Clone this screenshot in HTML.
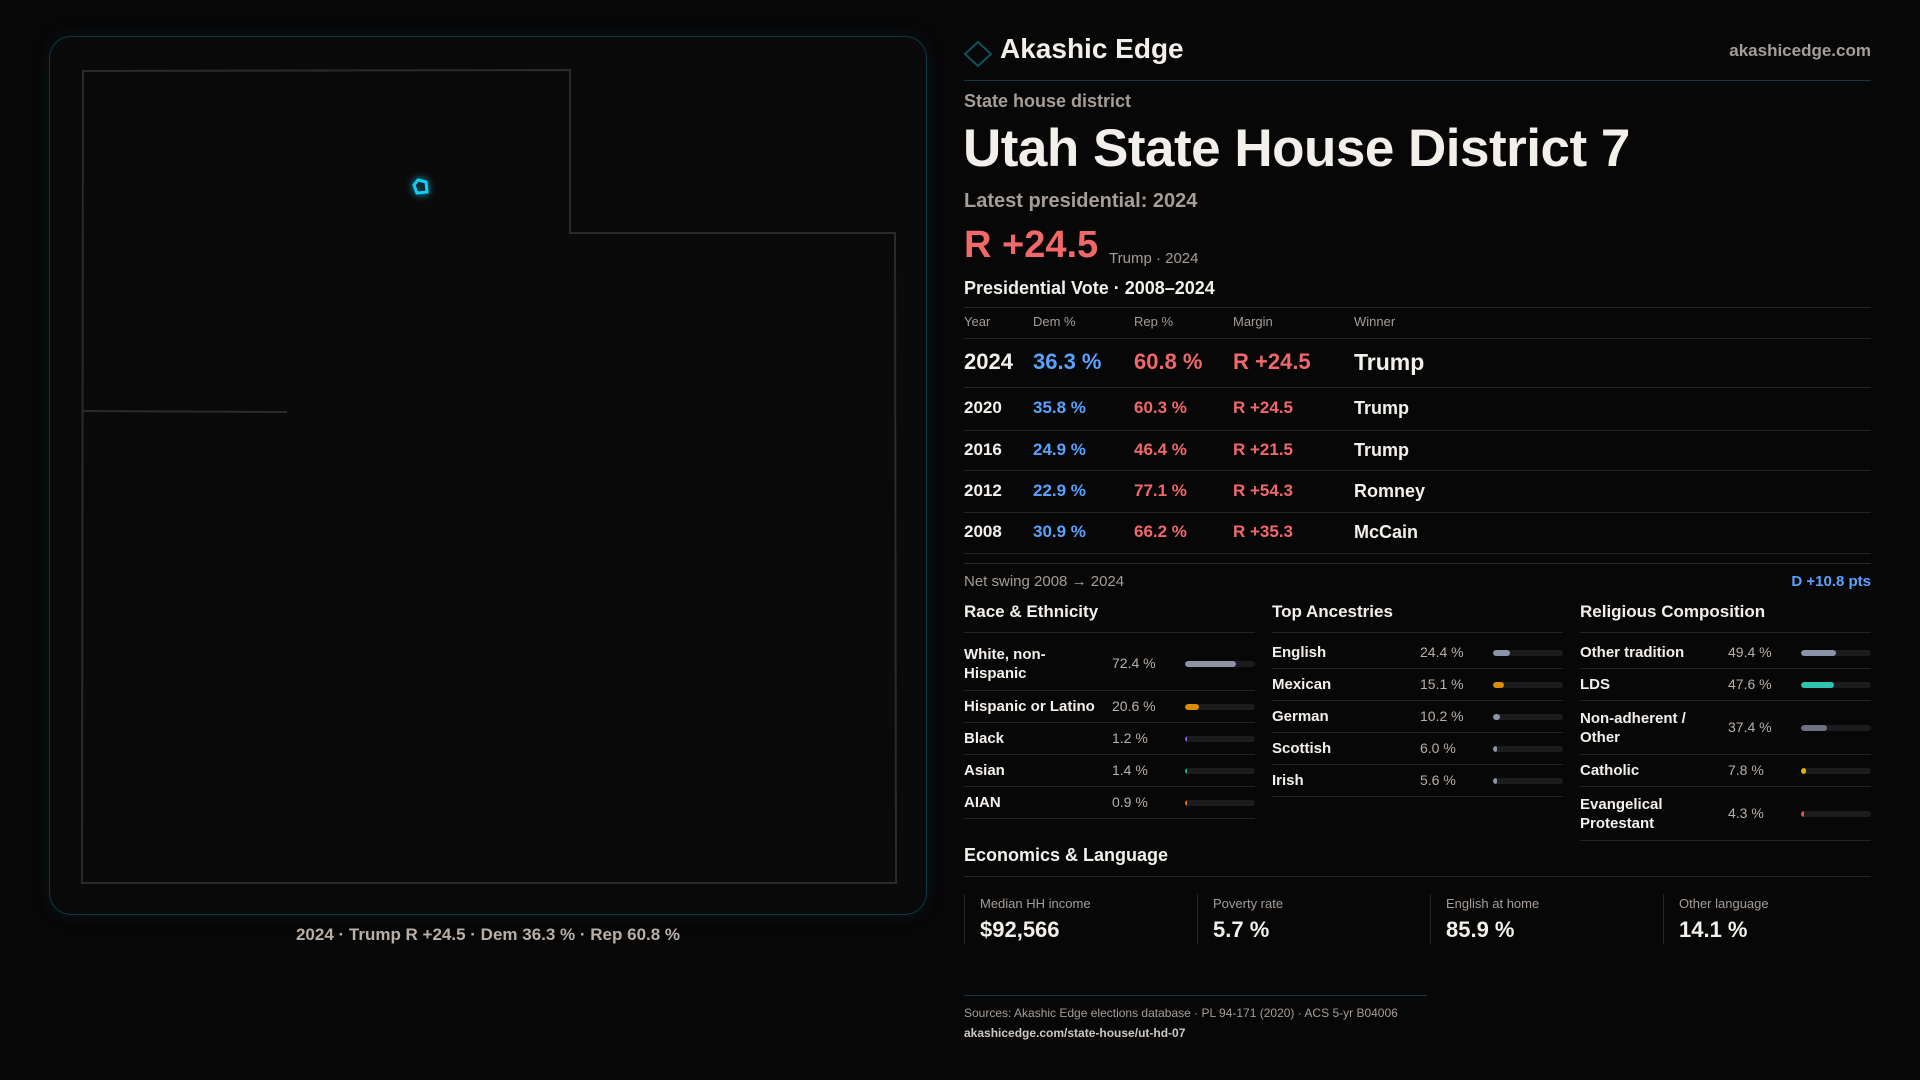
<!DOCTYPE html>
<html><head><meta charset="utf-8">
<style>
*{margin:0;padding:0;box-sizing:border-box}
body{width:1920px;height:1080px;background:#080708;font-family:"Liberation Sans",sans-serif;color:#f3f0ec;position:relative;overflow:hidden}
.a{position:absolute;white-space:nowrap}
.rule{position:absolute;height:1px;background:#242224}
.lbl{color:#a59d97}
.blue{color:#5aa2ff}.red{color:#f0686a}
.row{position:absolute;left:0;width:291px;border-bottom:1px solid #232123}
.row .n{position:absolute;left:0;font-size:15px;font-weight:bold;line-height:19px}
.row .v{position:absolute;font-size:14px;color:#b7afa8}
.track{position:absolute;height:6px;width:70px;background:#1c1b1e;border-radius:3px;overflow:hidden}
.fill{height:6px;border-radius:3px}
.card{position:absolute;top:894px;height:50px;border-left:1px solid #262426;padding-left:15px}
.card .l{font-size:13px;color:#a59d97;margin-top:2px}
.card .val{font-size:22px;font-weight:bold;margin-top:6px}
</style></head><body>
<div class="a" style="left:49px;top:36px;width:878px;height:879px;border:1px solid #0e3a44;border-radius:22px;background:#0b0a0b;box-shadow:0 0 18px rgba(20,120,140,0.12)"></div>
<svg class="a" style="left:0;top:0" width="940" height="900">
<polygon points="83,71 570,70 570,233 895,233 896,883 82,883" fill="none" stroke="#2c2a2c" stroke-width="2"/>
<line x1="83" y1="411" x2="287" y2="412" stroke="#2c2a2c" stroke-width="2"/>
<polygon points="414,185 418,180 426,182 427,192 417,193" fill="#0a2a33" stroke="#0fd0f0" stroke-width="3" style="filter:drop-shadow(0 0 4px #0aa8c8)"/>
</svg>
<div class="a" style="left:0;width:976px;text-align:center;top:925px;font-size:17px;color:#b7afa8;font-weight:bold">2024 · Trump R +24.5 · Dem 36.3 % · Rep 60.8 %</div>

<svg class="a" style="left:963px;top:40px" width="30" height="28"><polygon points="15,2 28,14 15,26 2,14" fill="none" stroke="#10505a" stroke-width="2"/></svg>
<div class="a" style="left:1000px;top:33px;font-size:28px;font-weight:bold">Akashic Edge</div>
<div class="a" style="right:49px;top:41px;font-size:17px;color:#a59d97;font-weight:bold">akashicedge.com</div>
<div class="rule" style="left:964px;width:907px;top:80px;background:#0f3a42"></div>
<div class="a lbl" style="left:964px;top:91px;font-size:18px;font-weight:bold">State house district</div>
<div class="a" style="left:963px;top:118px;font-size:53px;font-weight:bold;letter-spacing:-0.5px">Utah State House District 7</div>
<div class="a lbl" style="left:964px;top:190px;font-size:20px;font-weight:bold">Latest presidential: 2024</div>
<div class="a red" style="left:964px;top:224px;font-size:38px;font-weight:bold">R +24.5</div>
<div class="a lbl" style="left:1109px;top:250px;font-size:15px">Trump · 2024</div>
<div class="a" style="left:964px;top:278px;font-size:18px;font-weight:bold">Presidential Vote · 2008–2024</div>
<div class="a lbl" style="left:964px;top:573px;font-size:15px">Net swing 2008 → 2024</div>
<div class="a blue" style="right:49px;top:573px;font-size:15px;font-weight:bold">D +10.8 pts</div>
<div class="a" style="left:964px;top:845px;font-size:18px;font-weight:bold">Economics &amp; Language</div>
<div class="rule" style="left:964px;width:907px;top:876px"></div>
<div class="rule" style="left:964px;width:463px;top:995px;background:#0f3a42"></div>
<div class="a lbl" style="left:964px;top:1006px;font-size:12px">Sources: Akashic Edge elections database · PL 94-171 (2020) · ACS 5-yr B04006</div>
<div class="a" style="left:964px;top:1026px;font-size:12px;color:#cfc8c2;font-weight:bold">akashicedge.com/state-house/ut-hd-07</div>

<script>
const years=["2024","2020","2016","2012","2008"];
const demPct=[36.3,35.8,24.9,22.9,30.9];
const repPct=[60.8,60.3,46.4,77.1,66.2];
const margins=["R +24.5","R +24.5","R +21.5","R +54.3","R +35.3"];
const winners=["Trump","Trump","Trump","Romney","McCain"];
const raceLabels=["White, non-<br>Hispanic","Hispanic or Latino","Black","Asian","AIAN"];
const raceVals=[72.4,20.6,1.2,1.4,0.9];
const raceColors=["#8b94a6","#d98e0a","#8a5cf0","#22b07a","#e0702a"];
const ancLabels=["English","Mexican","German","Scottish","Irish"];
const ancVals=[24.4,15.1,10.2,6.0,5.6];
const ancColors=["#8b94a6","#d98e0a","#8b94a6","#8b94a6","#8b94a6"];
const relLabels=["Other tradition","LDS","Non-adherent /<br>Other","Catholic","Evangelical<br>Protestant"];
const relVals=[49.4,47.6,37.4,7.8,4.3];
const relColors=["#8b94a6","#2ec4b0","#6b7284","#e0b010","#e05252"];
const econLabels=["Median HH income","Poverty rate","English at home","Other language"];
const econVals=["$92,566","5.7 %","85.9 %","14.1 %"];

function add(parent,html,style,name,inter){const d=document.createElement('div');d.className=style.cls||'a';d.setAttribute('style',style.s);d.innerHTML=html;


parent.appendChild(d);return d;}
const B=document.body;
const cols=[964,1033,1134,1233,1354];
["Year","Dem %","Rep %","Margin","Winner"].forEach((h,i)=>add(B,h,{s:`left:${cols[i]}px;top:314px;font-size:13px;color:#a59d97`},'table-header','false'));
[307,338].forEach(y=>add(B,'',{cls:'rule',s:`left:964px;width:907px;top:${y}px`},'table-rule','false'));
const rowTops=[338,387,430,470,512];const rowH=[49,43,40,42,41];
years.forEach((y,i)=>{
 const big=i===0;const fs=big?22:17;const top=rowTops[i]+rowH[i]/2-fs*0.6;
 add(B,y,{s:`left:${cols[0]}px;top:${top}px;font-size:${fs}px;font-weight:bold`},'row-year','false');
 add(B,demPct[i].toFixed(1)+' %',{s:`left:${cols[1]}px;top:${top}px;font-size:${fs}px;font-weight:bold;color:#5aa2ff`},'row-dem','false');
 add(B,repPct[i].toFixed(1)+' %',{s:`left:${cols[2]}px;top:${top}px;font-size:${fs}px;font-weight:bold;color:#f0686a`},'row-rep','false');
 add(B,margins[i],{s:`left:${cols[3]}px;top:${top}px;font-size:${fs}px;font-weight:bold;color:#f0686a`},'row-margin','false');
 add(B,winners[i],{s:`left:${cols[4]}px;top:${top}px;font-size:${fs+1}px;font-weight:bold`},'row-winner','false');
 add(B,'',{cls:'rule',s:`left:964px;width:907px;top:${rowTops[i]+rowH[i]}px`},'table-rule','false');
});
add(B,'',{cls:'rule',s:`left:964px;width:907px;top:563px;background:#2a282a`},'table-end-rule','false');
function section(x,title,labels,vals,colors,name){
 add(B,title,{s:`left:${x}px;top:602px;font-size:17px;font-weight:bold`},name+'-heading','false');
 add(B,'',{cls:'rule',s:`left:${x}px;width:291px;top:632px`},name+'-rule','false');
 let y=637;
 labels.forEach((l,i)=>{
  const two=l.includes('<br>');const h=two?54:32;
  const r=add(B,'',{cls:'row',s:`top:${y}px;left:${x}px;height:${h}px`},name+'-row','false');
  const n=document.createElement('div');n.className='n';n.innerHTML=l;n.style.top=(h/2-(two?19:10))+'px';
  
  
  r.appendChild(n);
  const v=document.createElement('div');v.className='v';v.textContent=vals[i].toFixed(1)+' %';v.style.left='148px';v.style.top=(h/2-9)+'px';
  
  
  r.appendChild(v);
  const t=document.createElement('div');t.className='track';t.style.left='221px';t.style.top=(h/2-3)+'px';
  
  
  const f=document.createElement('div');f.className='fill';f.style.width=Math.max(vals[i]/100*70,1.5)+'px';f.style.background=colors[i];
  
  
  t.appendChild(f);r.appendChild(t);
  y+=h;
 });
}
section(964,"Race &amp; Ethnicity",raceLabels,raceVals,raceColors,'race');
section(1272,"Top Ancestries",ancLabels,ancVals,ancColors,'ancestry');
section(1580,"Religious Composition",relLabels,relVals,relColors,'religion');
econLabels.forEach((l,i)=>{
 add(B,`<div class="l">${l}</div><div class="val">${econVals[i]}</div>`,{cls:'card',s:`left:${964+i*233}px;width:233px`},'econ-card','false');
});
</script>
</body></html>
